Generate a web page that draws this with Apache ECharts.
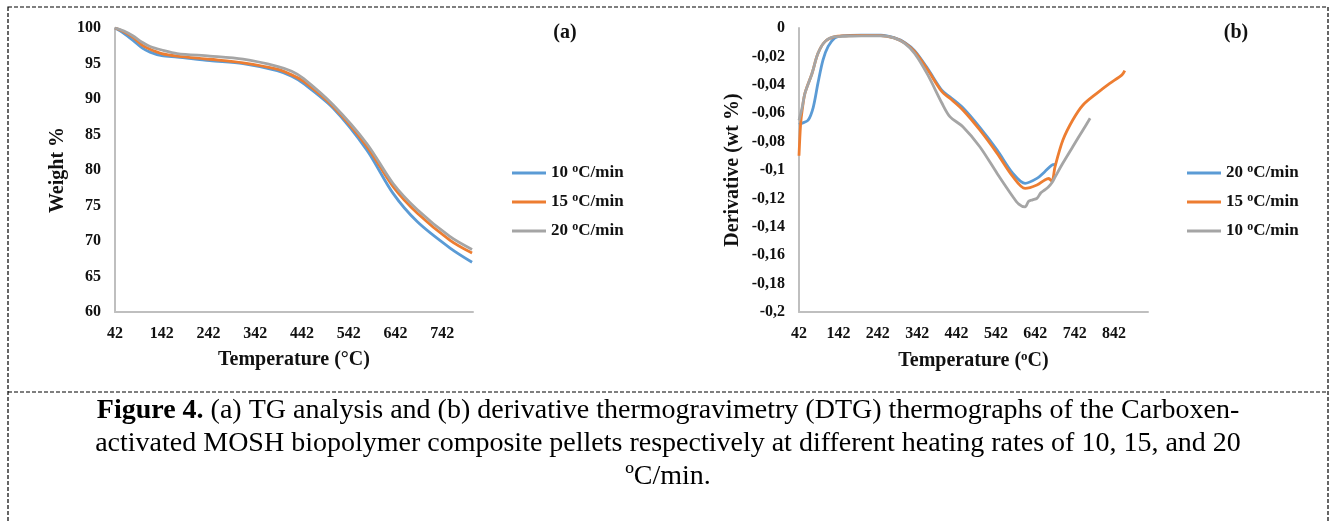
<!DOCTYPE html>
<html>
<head>
<meta charset="utf-8">
<script src="https://cdn.jsdelivr.net/npm/echarts@6/dist/echarts.min.js"></script>
<style>
html,body{margin:0;padding:0;background:#fff;}
#c{width:1335px;height:522px;}
</style>
</head>
<body>
<div id="c"></div>
<script>
// ---- (a) TG data ----
const tgTemps = [42, 60, 80, 100, 117, 142, 175, 245, 316, 389, 420, 445, 509, 581, 637, 689, 759, 806];
const tg10 = [100, 99.3, 98.3, 97.2, 96.6, 96.1, 95.9, 95.4, 95.0, 94.0, 93.2, 92.2, 88.7, 82.8, 76.7, 72.7, 69.0, 67.0];
const tg15 = [100, 99.5, 98.7, 97.6, 97.0, 96.4, 96.05, 95.6, 95.1, 94.2, 93.4, 92.5, 88.9, 83.3, 77.65, 73.9, 70.1, 68.3];
const tg20 = [100, 99.6, 98.9, 98.0, 97.4, 96.9, 96.4, 96.05, 95.6, 94.6, 93.9, 92.9, 89.15, 83.7, 78.1, 74.4, 70.6, 68.8];

// ---- (b) DTG data ----
const dtg20Temps = [42, 50, 65, 78, 90, 103, 116, 133, 151, 200, 250, 283, 311, 336, 369, 405, 425, 458, 501, 545, 585, 616, 646, 666, 684, 692];
const dtg20 = [-0.068, -0.067, -0.065, -0.056, -0.039, -0.0225, -0.013, -0.007, -0.0055, -0.005, -0.005, -0.0068, -0.0103, -0.0162, -0.0288, -0.0440, -0.0485, -0.0562, -0.0700, -0.0860, -0.1024, -0.1094, -0.1059, -0.1012, -0.0965, -0.096];

const dtg15Temps = [42, 46, 50, 57, 75, 90, 108, 133, 160, 200, 250, 283, 311, 336, 369, 405, 425, 458, 501, 545, 585, 616, 646, 666, 676, 684, 692, 712, 737, 763, 798, 831, 862, 869];
const dtg15 = [-0.09, -0.068, -0.058, -0.046, -0.032, -0.018, -0.0096, -0.0061, -0.0055, -0.0052, -0.0053, -0.007, -0.0106, -0.0167, -0.0296, -0.0449, -0.0495, -0.0577, -0.0718, -0.0883, -0.1047, -0.113, -0.1106, -0.107, -0.106, -0.108, -0.0976, -0.0789, -0.0648, -0.0542, -0.046, -0.039, -0.033, -0.030];

const dtg10Temps = [42, 50, 57, 75, 90, 108, 133, 160, 200, 250, 283, 311, 336, 369, 405, 425, 458, 501, 545, 585, 600, 616, 625, 635, 646, 656, 666, 675, 684, 692, 712, 737, 763, 781];
const dtg10 = [-0.065, -0.056, -0.046, -0.032, -0.018, -0.0096, -0.0061, -0.0058, -0.0055, -0.0056, -0.007, -0.011, -0.018, -0.033, -0.053, -0.0624, -0.0695, -0.0836, -0.1024, -0.1188, -0.124, -0.126, -0.122, -0.121, -0.12, -0.116, -0.114, -0.112, -0.109, -0.105, -0.0951, -0.0836, -0.0718, -0.0636];

const tgLegend = ['10', '15', '20'];
const dtgLegend = ['20', '15', '10'];

const BLUE = '#5b9bd5', ORANGE = '#ed7d31', GRAY = '#a5a5a5';
const FONT = '"Liberation Serif", "Times New Roman", serif';

function zip(xs, ys) { return xs.map((x, i) => [x, ys[i]]); }

const chart = echarts.init(document.getElementById('c'), null, {renderer: 'canvas'});

const axisLine = {show: true, onZero: false, lineStyle: {color: '#bfbfbf', width: 2}};
const tickLabel = {color: '#111', fontFamily: FONT, fontWeight: 'bold', fontSize: 16};
const supStyle = {fontFamily: FONT, fontWeight: 'bold', fontSize: 13, verticalAlign: 'top', padding: [0, 0, 9, 0], color: '#111'};
const nameStyle = {color: '#111', fontFamily: FONT, fontWeight: 'bold', fontSize: 20, rich: {sup: supStyle}};

function lineSeries(name, xi, yi, data, color) {
  return {name: name, type: 'line', xAxisIndex: xi, yAxisIndex: yi, data: data, smooth: 0.3,
    showSymbol: false, symbol: 'none', lineStyle: {color: color, width: 2.8}, itemStyle: {color: color}, z: 3};
}

const legendText = {color: '#111', fontFamily: FONT, fontWeight: 'bold', fontSize: 17,
  rich: {sup: {fontFamily: FONT, fontWeight: 'bold', fontSize: 12, verticalAlign: 'top', padding: [0, 0, 8, 0], color: '#111'}}};

function legendFmt(n) { return n.slice(1) + ' {sup|o}C/min'; }

const option = {
  animation: false,
  backgroundColor: '#fff',
  grid: [
    {left: 115, top: 28, width: 358, height: 284},
    {left: 799, top: 28, width: 349, height: 284}
  ],
  xAxis: [
    {gridIndex: 0, type: 'value', min: 42, max: 808, interval: 100,
     axisLine: axisLine, axisTick: {show: false}, splitLine: {show: false},
     axisLabel: Object.assign({margin: 14, showMaxLabel: false}, tickLabel),
     name: 'Temperature (°C)', nameLocation: 'middle', nameGap: 38, nameTextStyle: nameStyle},
    {gridIndex: 1, type: 'value', min: 42, max: 928, interval: 100,
     axisLine: axisLine, axisTick: {show: false}, splitLine: {show: false},
     axisLabel: Object.assign({margin: 14, showMaxLabel: false}, tickLabel),
     name: 'Temperature ({sup|o}C)', nameLocation: 'middle', nameGap: 38, nameTextStyle: nameStyle}
  ],
  yAxis: [
    {gridIndex: 0, type: 'value', min: 60, max: 100, interval: 5,
     axisLine: axisLine, axisTick: {show: false}, splitLine: {show: false},
     axisLabel: Object.assign({margin: 14}, tickLabel),
     name: 'Weight %', nameLocation: 'middle', nameGap: 47, nameRotate: 90, nameTextStyle: nameStyle},
    {gridIndex: 1, type: 'value', min: -0.2, max: 0, interval: 0.02,
     axisLine: axisLine, axisTick: {show: false}, splitLine: {show: false},
     axisLabel: Object.assign({margin: 14, formatter: function (v) {
       const r = Math.round(v * 100) / 100; return String(r).replace('.', ',');
     }}, tickLabel),
     name: 'Derivative (wt %)', nameLocation: 'middle', nameGap: 56, nameRotate: 90, nameTextStyle: nameStyle}
  ],
  legend: [
    {data: tgLegend.map(function (s) { return 'a' + s; }), left: 512, top: 163, padding: 0, orient: 'vertical', itemGap: 10.5,
     icon: 'rect', itemWidth: 34, itemHeight: 3, textStyle: legendText, formatter: legendFmt},
    {data: dtgLegend.map(function (s) { return 'b' + s; }), left: 1187, top: 163, padding: 0, orient: 'vertical', itemGap: 10.5,
     icon: 'rect', itemWidth: 34, itemHeight: 3, textStyle: legendText, formatter: legendFmt}
  ],
  series: [
    lineSeries('a10', 0, 0, zip(tgTemps, tg10), BLUE),
    lineSeries('a15', 0, 0, zip(tgTemps, tg15), ORANGE),
    lineSeries('a20', 0, 0, zip(tgTemps, tg20), GRAY),
    lineSeries('b20', 1, 1, zip(dtg20Temps, dtg20), BLUE),
    lineSeries('b15', 1, 1, zip(dtg15Temps, dtg15), ORANGE),
    lineSeries('b10', 1, 1, zip(dtg10Temps, dtg10), GRAY)
  ],
  graphic: [
    {type: 'rect', shape: {x: 8, y: 7, width: 1320, height: 620}, silent: true,
     style: {fill: 'none', stroke: '#000', lineWidth: 1.2, lineDash: [4, 2]}},
    {type: 'line', shape: {x1: 8, y1: 392, x2: 1328, y2: 392}, silent: true,
     style: {stroke: '#000', lineWidth: 1.2, lineDash: [4, 2]}},
    {type: 'text', x: 565, y: 33, style: {text: '(a)', align: 'center', verticalAlign: 'middle', fontFamily: FONT, fontWeight: 'bold', fontSize: 20, fill: '#111'}},
    {type: 'text', x: 1236, y: 33, style: {text: '(b)', align: 'center', verticalAlign: 'middle', fontFamily: FONT, fontWeight: 'bold', fontSize: 20, fill: '#111'}},
    {type: 'text', x: 668, y: 394, silent: true,
     style: {
       text: '{b|Figure 4.} (a) TG analysis and (b) derivative thermogravimetry (DTG) thermographs of the Carboxen-\nactivated MOSH biopolymer composite pellets respectively at different heating rates of 10, 15, and 20\nºC/min.',
       align: 'center', verticalAlign: 'top', fontFamily: FONT, fontSize: 28, lineHeight: 33, fill: '#000',
       rich: {b: {fontFamily: FONT, fontSize: 28, fontWeight: 'bold', fill: '#000', lineHeight: 33}}
     }}
  ]
};
chart.setOption(option);
</script>
</body>
</html>
